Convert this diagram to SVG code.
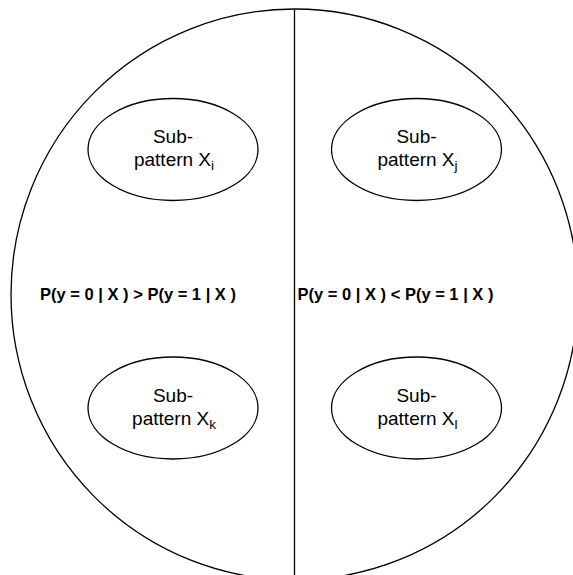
<svg xmlns="http://www.w3.org/2000/svg" width="573" height="575" viewBox="0 0 573 575">
<style>
.shape{fill:#ffffff;stroke:#000000;stroke-width:1.3}
.lbl{font-family:"Liberation Sans",Arial,sans-serif;font-size:19px;fill:#000;text-anchor:middle}
.sub{font-size:13.5px}
.eq{font-family:"Liberation Sans",Arial,sans-serif;font-size:16.5px;font-weight:bold;fill:#000;text-anchor:middle}
</style>
<rect width="573" height="575" fill="#ffffff"/>
<g id="space">
<ellipse class="shape" cx="294.5" cy="294.5" rx="283.5" ry="285.5"/>
</g>
<g id="connectors">
<line x1="294.5" y1="9" x2="294.5" y2="575" stroke="#000" stroke-width="1.3"/>
</g>
<g id="region-left">
<text class="eq" x="138" y="300">P(y = 0 | X ) &gt; P(y = 1 | X )</text>
</g>
<g id="region-right">
<text class="eq" x="395.5" y="300">P(y = 0 | X ) &lt; P(y = 1 | X )</text>
</g>
<g id="node-xi">
<ellipse class="shape" cx="173" cy="149.5" rx="85" ry="51"/>
<text class="lbl" x="173" y="143">Sub-</text>
<text class="lbl" x="174" y="166">pattern X<tspan class="sub" dy="4">i</tspan></text>
</g>
<g id="node-xj">
<ellipse class="shape" cx="416.5" cy="149.5" rx="85" ry="51"/>
<text class="lbl" x="416.5" y="143">Sub-</text>
<text class="lbl" x="417.5" y="166">pattern X<tspan class="sub" dy="4">j</tspan></text>
</g>
<g id="node-xk">
<ellipse class="shape" cx="173" cy="408" rx="85" ry="51"/>
<text class="lbl" x="173" y="401.5">Sub-</text>
<text class="lbl" x="174" y="424.5">pattern X<tspan class="sub" dy="4">k</tspan></text>
</g>
<g id="node-xl">
<ellipse class="shape" cx="416.5" cy="408" rx="85" ry="51"/>
<text class="lbl" x="416.5" y="401.5">Sub-</text>
<text class="lbl" x="417.5" y="424.5">pattern X<tspan class="sub" dy="4">l</tspan></text>
</g>
</svg>
